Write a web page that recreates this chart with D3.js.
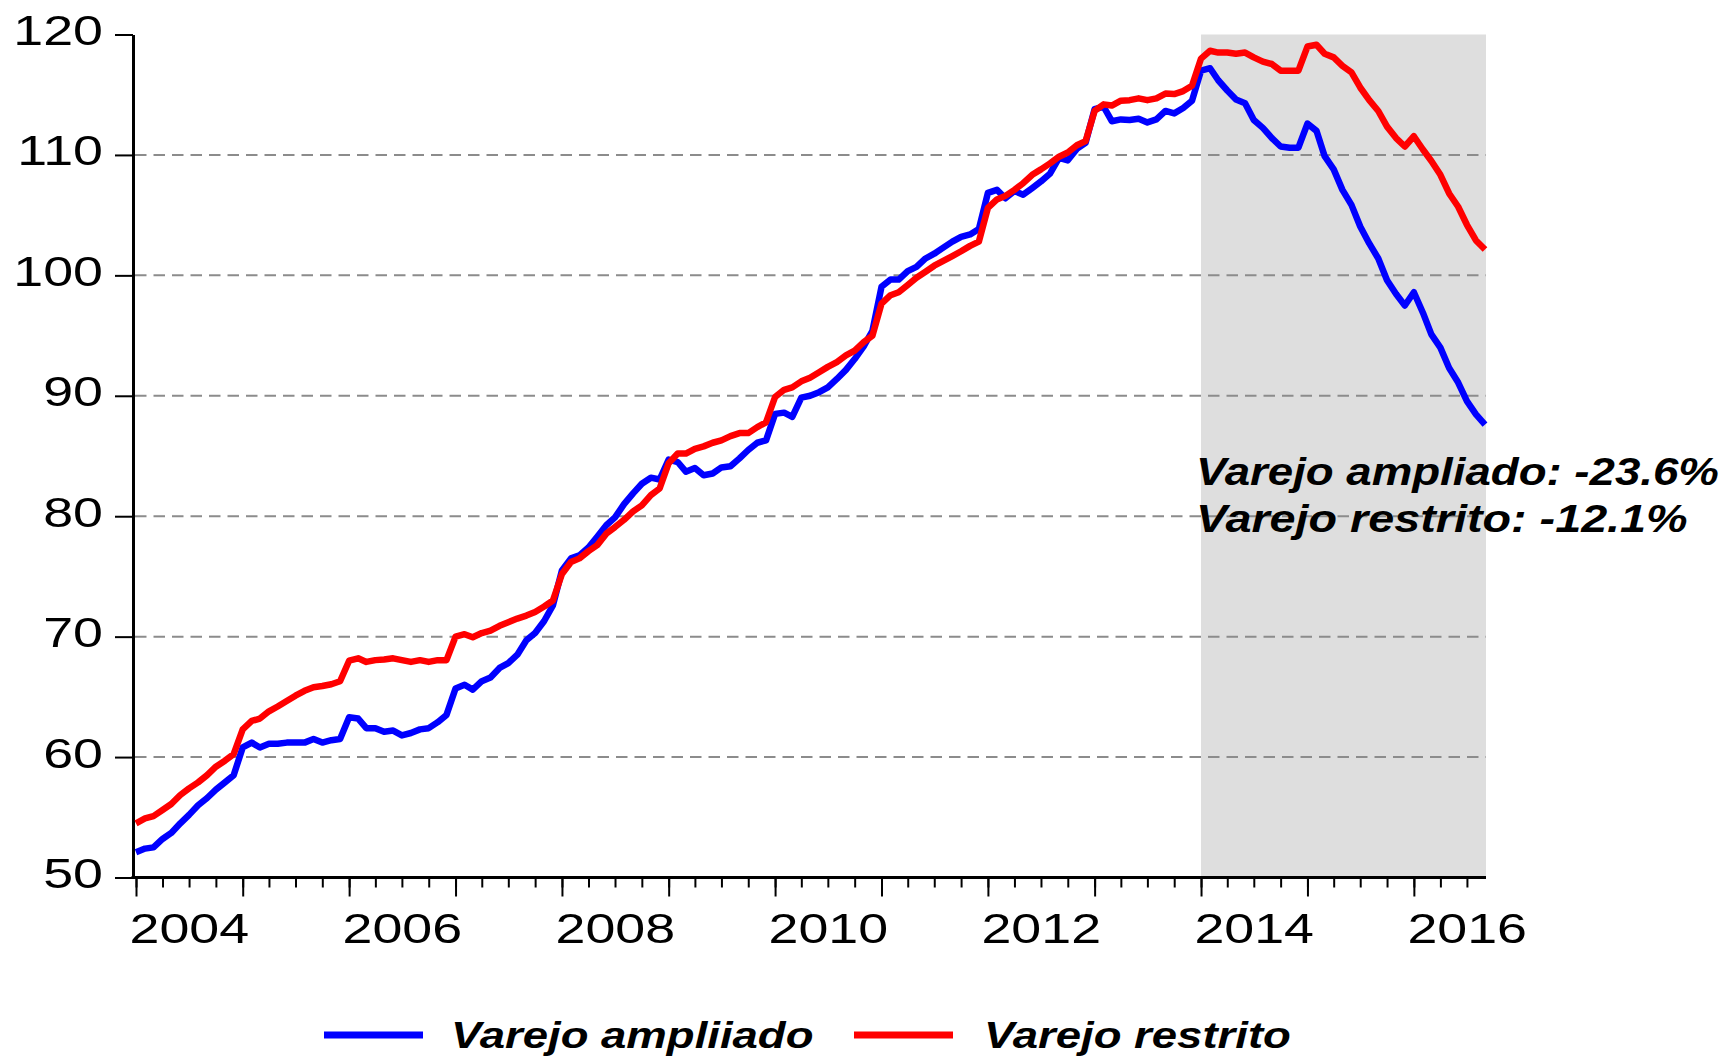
<!DOCTYPE html>
<html>
<head>
<meta charset="utf-8">
<script src="https://cdn.jsdelivr.net/npm/d3@7"></script>
<style>
  body { margin: 0; background: #fff; }
  svg { display: block; }
</style>
</head>
<body>
<svg id="chart" width="1727" height="1057"></svg>
<script>
// monthly series, Jan 2004 .. Sep 2016
var startMonth = new Date(2004, 0, 1)

var ampliado = [
  52.1, 52.4, 52.5, 53.2, 53.7, 54.5, 55.2, 56.0, 56.6, 57.3, 57.9, 58.5,       // 2004
  60.8, 61.2, 60.8, 61.1, 61.1, 61.2, 61.2, 61.2, 61.5, 61.2, 61.4, 61.5,       // 2005
  63.3, 63.2, 62.4, 62.4, 62.1, 62.2, 61.8, 62.0, 62.3, 62.4, 62.9, 63.5,       // 2006
  65.7, 66.0, 65.6, 66.3, 66.6, 67.4, 67.8, 68.5, 69.7, 70.3, 71.3, 72.6,       // 2007
  75.5, 76.5, 76.75, 77.4, 78.3, 79.25, 79.9, 81.0, 81.9, 82.7, 83.2, 83.05,    // 2008
  84.7, 84.5, 83.7, 84.0, 83.4, 83.55, 84.05, 84.15, 84.8, 85.5, 86.1, 86.3,    // 2009
  88.5, 88.6, 88.25, 89.85, 90.0, 90.3, 90.7, 91.4, 92.15, 93.05, 94.1, 95.4,   // 2010
  99.05, 99.65, 99.65, 100.35, 100.7, 101.4, 101.8, 102.3, 102.8, 103.2, 103.4, 103.85, // 2011
  106.85, 107.1, 106.4, 107.0, 106.7, 107.25, 107.8, 108.45, 109.75, 109.55, 110.5, 111.0, // 2012
  113.8, 114.0, 112.8, 112.95, 112.9, 113.0, 112.7, 112.95, 113.65, 113.45, 113.9, 114.5, // 2013
  117.0, 117.2, 116.2, 115.35, 114.6, 114.3, 112.9, 112.25, 111.4, 110.7, 110.6, 110.6,   // 2014
  112.6, 112.0, 109.9, 108.8, 107.1, 105.85, 104.05, 102.65, 101.4, 99.6, 98.45, 97.5,    // 2015
  98.6, 96.9, 95.1, 94.0, 92.3, 91.1, 89.55, 88.45, 87.6                                  // 2016
]

var restrito = [
  54.5, 54.9, 55.1, 55.6, 56.1, 56.85, 57.4, 57.9, 58.5, 59.2, 59.7, 60.25,     // 2004
  62.3, 63.0, 63.2, 63.8, 64.2, 64.65, 65.1, 65.5, 65.8, 65.9, 66.05, 66.3,     // 2005
  68.0, 68.2, 67.9, 68.05, 68.1, 68.2, 68.05, 67.9, 68.05, 67.9, 68.05, 68.05,  // 2006
  70.0, 70.2, 69.95, 70.3, 70.5, 70.9, 71.2, 71.5, 71.75, 72.05, 72.5, 73.0,    // 2007
  75.2, 76.2, 76.5, 77.1, 77.6, 78.55, 79.1, 79.7, 80.4, 80.9, 81.75, 82.3,     // 2008
  84.4, 85.2, 85.2, 85.6, 85.8, 86.1, 86.3, 86.65, 86.9, 86.9, 87.4, 87.8,      // 2009
  89.9, 90.5, 90.7, 91.2, 91.5, 91.95, 92.4, 92.8, 93.35, 93.75, 94.45, 95.0,   // 2010
  97.65, 98.35, 98.6, 99.2, 99.8, 100.3, 100.8, 101.2, 101.6, 102.0, 102.45, 102.8,       // 2011
  105.6, 106.3, 106.6, 107.1, 107.65, 108.35, 108.8, 109.3, 109.85, 110.2, 110.8, 111.15, // 2012
  113.65, 114.2, 114.1, 114.5, 114.55, 114.7, 114.55, 114.7, 115.1, 115.05, 115.3, 115.75,// 2013
  118.0, 118.65, 118.5, 118.5, 118.4, 118.5, 118.1, 117.75, 117.55, 117.0, 117.0, 117.0,  // 2014
  119.0, 119.15, 118.4, 118.1, 117.4, 116.85, 115.6, 114.55, 113.65, 112.35, 111.4, 110.7, // 2015
  111.55, 110.45, 109.5, 108.35, 106.8, 105.7, 104.2, 102.9, 102.15                        // 2016
]

var yTicks =      [50, 60, 70, 80, 90, 100, 110, 120]
var gridValues =  [60, 70, 80, 90, 100, 110]
var yearLabels =  [2004, 2006, 2008, 2010, 2012, 2014, 2016]
var shadeFrom =   new Date(2014, 0, 1)
var legendNames = ['Varejo ampliiado', 'Varejo restrito']
var noteLines =   ['Varejo ampliado: -23.6%', 'Varejo restrito: -12.1%']

var colorAmpliado = '#0000ff'
var colorRestrito = '#ff0000'
var fontFamily =    '"Liberation Sans", Arial, Helvetica, sans-serif'
var stretchX =      1.25   // the original text is drawn a bit wide

var dates = ampliado.map(function(d, i) { return d3.timeMonth.offset(startMonth, i) })
var lastDate = dates[dates.length - 1]

var svg = d3.select('#chart')

var x = d3.scaleTime().domain([startMonth, lastDate]).range([136, 1485])
var y = d3.scaleLinear().domain([50, 120]).range([877.5, 34.5])

var axisLeftX = 133
var axisRightX = 1486

// text helper, stretched horizontally around its anchor point
function label(parent, px, py, str, size, anchor, sx, bold) {
  var g = parent.append('g')
    .attr('transform', 'translate(' + px + ',' + py + ') scale(' + sx + ',1)')
  g.append('text')
    .attr('text-anchor', anchor)
    .style('font-family', fontFamily)
    .style('font-size', size + 'px')
    .style('font-weight', bold ? 'bold' : 'normal')
    .style('font-style', bold ? 'italic' : 'normal')
    .attr('fill', '#000')
    .text(str)
  return g
}

// shaded period
svg.append('rect')
  .attr('x', x(shadeFrom))
  .attr('y', y(120))
  .attr('width', axisRightX - x(shadeFrom))
  .attr('height', y(50) - y(120))
  .attr('fill', '#dedede')

// dashed grid
svg.append('g').selectAll('line')
  .data(gridValues)
  .join('line')
  .attr('x1', axisLeftX + 2)
  .attr('x2', axisRightX)
  .attr('y1', function(d) { return y(d) })
  .attr('y2', function(d) { return y(d) })
  .attr('stroke', '#8c8c8c')
  .attr('stroke-width', 2)
  .attr('stroke-dasharray', '11.5,7')

// y axis
var yAxisG = svg.append('g')
  .attr('transform', 'translate(' + axisLeftX + ',0)')
  .call(d3.axisLeft(y).tickValues(yTicks).tickSize(18).tickSizeOuter(0).tickFormat(''))
yAxisG.select('.domain').attr('stroke', '#000').attr('stroke-width', 3)
yAxisG.selectAll('.tick line').attr('stroke', '#000').attr('stroke-width', 2)

yTicks.forEach(function(v) {
  label(svg, 103, y(v) + 10.5, v, 43, 'end', stretchX, false)
})

// x axis: quarterly minor ticks, yearly major ticks
var xBase = y(50)
var minorAxis = svg.append('g')
  .attr('transform', 'translate(0,' + xBase + ')')
  .call(d3.axisBottom(x).ticks(d3.timeMonth.every(3)).tickSize(10).tickSizeOuter(0).tickFormat(''))
var majorAxis = svg.append('g')
  .attr('transform', 'translate(0,' + xBase + ')')
  .call(d3.axisBottom(x).ticks(d3.timeYear.every(1)).tickSize(19).tickSizeOuter(0).tickFormat(''))
minorAxis.select('.domain').remove()
majorAxis.select('.domain').remove()
svg.selectAll('.tick line').attr('stroke', '#000').attr('stroke-width', 2)

svg.append('line')
  .attr('x1', axisLeftX - 1.5)
  .attr('x2', axisRightX)
  .attr('y1', xBase)
  .attr('y2', xBase)
  .attr('stroke', '#000')
  .attr('stroke-width', 3)

// year labels sit in the middle of their year
yearLabels.forEach(function(yr) {
  var mid = (x(new Date(yr, 0, 1)) + x(new Date(yr + 1, 0, 1))) / 2
  label(svg, mid, 943, yr, 43, 'middle', stretchX, false)
})

// series
var line = d3.line()
  .x(function(d) { return x(d[0]) })
  .y(function(d) { return y(d[1]) })

function drawSeries(values, color) {
  svg.append('path')
    .datum(values.map(function(v, i) { return [dates[i], v] }))
    .attr('d', line)
    .attr('fill', 'none')
    .attr('stroke', color)
    .attr('stroke-width', 6.5)
    .attr('stroke-linejoin', 'round')
}
drawSeries(ampliado, colorAmpliado)
drawSeries(restrito, colorRestrito)

// note
label(svg, 1196, 485, noteLines[0], 38, 'start', 1.2, true)
label(svg, 1196, 532, noteLines[1], 38, 'start', 1.23, true)

// legend
var legend = [
  { name: legendNames[0], color: colorAmpliado, x0: 324, tx: 451 },
  { name: legendNames[1], color: colorRestrito, x0: 854, tx: 984 }
]
legend.forEach(function(l) {
  svg.append('line')
    .attr('x1', l.x0)
    .attr('x2', l.x0 + 99)
    .attr('y1', 1035)
    .attr('y2', 1035)
    .attr('stroke', l.color)
    .attr('stroke-width', 7)
  label(svg, l.tx, 1048, l.name, 37, 'start', 1.23, true)
})
</script>
</body>
</html>
